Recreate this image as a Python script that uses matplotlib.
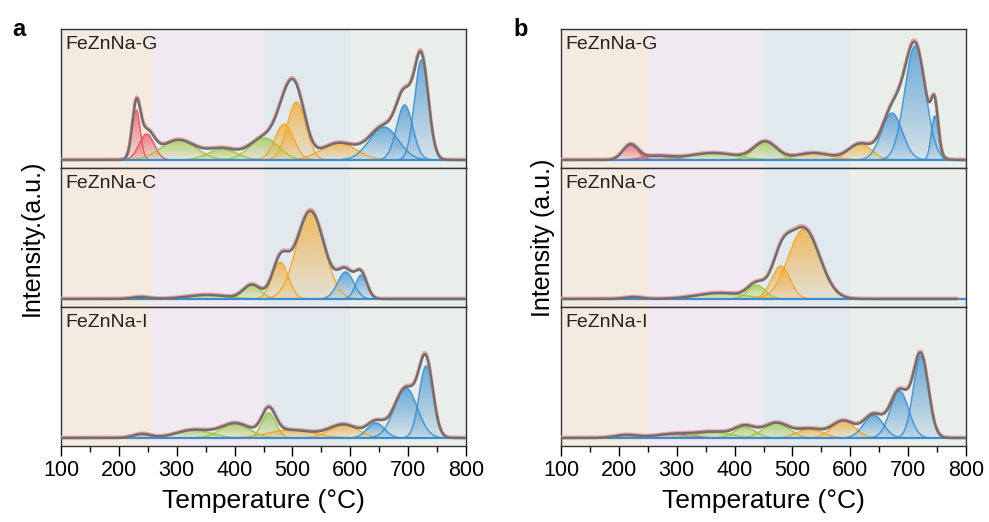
import numpy as np
import matplotlib
matplotlib.use("Agg")
import matplotlib.pyplot as plt
from matplotlib.colors import to_rgb

plt.rcParams["font.family"] = ["Liberation Sans", "DejaVu Sans"]

# temperature axis
temp_min, temp_max = 100, 800

# background regions (start, end, colour)
bands_a = [(100, 255, "#f4eae0"), (255, 450, "#efe9f1"), (450, 600, "#e1e8ee"), (600, 800, "#e9eeeb")]
bands_b = [(100, 250, "#f4eae0"), (250, 450, "#efe9f1"), (450, 600, "#e1e8ee"), (600, 800, "#e9eeeb")]

samples = ["FeZnNa-G", "FeZnNa-C", "FeZnNa-I"]

# fitted gaussian peaks: centre (°C), height, width (sigma), colour group
# panel a
a_G_center = [230, 248, 303, 379, 451, 486, 507, 580, 658, 694, 723]
a_G_height = [50, 26, 20, 11, 22, 36, 58, 17, 33, 55, 100]
a_G_width = [7, 13, 30, 25, 25, 16, 16, 30, 25, 14, 12]
a_G_group = ["r", "r", "g", "g", "g", "o", "o", "o", "b", "b", "b"]

a_C_center = [237, 353, 430, 479, 531, 592, 619]
a_C_height = [2, 4, 14, 37, 88, 27, 24]
a_C_width = [15, 35, 15, 14, 24, 14, 10]
a_C_group = ["r", "g", "g", "o", "o", "b", "b"]

a_I_center = [240, 329, 401, 459, 497, 589, 644, 696, 731]
a_I_height = [4, 8, 14, 25, 8, 13, 15, 50, 72]
a_I_width = [15, 30, 25, 12, 40, 25, 15, 20, 12]
a_I_group = ["r", "g", "g", "g", "o", "o", "b", "b", "b"]

# panel b
b_G_center = [220, 265, 363, 453, 536, 617, 672, 712, 746]
b_G_height = [15, 4, 7, 18, 7, 16, 47, 114, 44]
b_G_width = [13, 25, 40, 20, 30, 20, 18, 18, 6]
b_G_group = ["r", "r", "g", "g", "o", "o", "b", "b", "b"]

b_C_center = [225, 375, 438, 480, 520]
b_C_height = [2, 6, 14, 33, 70]
b_C_width = [15, 40, 15, 16, 27]
b_C_group = ["r", "g", "g", "o", "o"]

b_I_center = [213, 294, 363, 418, 472, 530, 588, 640, 685, 722]
b_I_height = [3, 4, 6, 11, 15, 9, 17, 23, 47, 82]
b_I_width = [20, 30, 30, 18, 22, 22, 20, 17, 16, 13]
b_I_group = ["r", "r", "g", "g", "g", "o", "o", "b", "b", "b"]

# end of measured range per panel (panel b, C sample stops early)
a_end = [800, 800, 800]
b_end = [800, 784, 800]

group_colors = {"r": "#e8505b", "g": "#9cc43a", "o": "#f5a623", "b": "#3a8dd0"}

panels = {
    "a": [(a_G_center, a_G_height, a_G_width, a_G_group),
          (a_C_center, a_C_height, a_C_width, a_C_group),
          (a_I_center, a_I_height, a_I_width, a_I_group)],
    "b": [(b_G_center, b_G_height, b_G_width, b_G_group),
          (b_C_center, b_C_height, b_C_width, b_C_group),
          (b_I_center, b_I_height, b_I_width, b_I_group)],
}

fig = plt.figure(figsize=(9.89, 5.22), dpi=100)

lefts = {"a": 61 / 989, "b": 561 / 989}
label_x = {"a": -0.042, "b": -0.015}
width = 405 / 989
h = 139 / 522
bottom0 = 1 - 446 / 522


def gaussian(x, c, a, s):
    return a * np.exp(-(x - c) ** 2 / (2 * s ** 2))


for key in ["a", "b"]:
    bands = bands_a if key == "a" else bands_b
    ends = a_end if key == "a" else b_end
    axes = []
    for i, (cen, hei, wid, grp) in enumerate(panels[key]):
        ax = fig.add_axes([lefts[key], bottom0 + (2 - i) * h, width, h])
        axes.append(ax)
        x = np.linspace(temp_min, ends[i], 1400)
        for (s, e, col) in bands:
            ax.axvspan(s, e, color=col, lw=0, zorder=0)
        total = np.zeros_like(x)
        for c, a, s, g in zip(cen, hei, wid, grp):
            y = gaussian(x, c, a, s)
            total += y
            col = group_colors[g]
            poly = ax.fill_between(x, 0, y, color=col, alpha=0, lw=0, zorder=2)
            grad = np.zeros((64, 1, 4))
            grad[:, 0, :3] = to_rgb(col)
            grad[:, 0, 3] = np.linspace(0.12, 0.7, 64)
            im = ax.imshow(grad, aspect="auto", extent=[temp_min, temp_max, 0, a],
                           origin="lower", zorder=2, interpolation="bilinear")
            im.set_clip_path(poly.get_paths()[0], transform=ax.transData)
            ax.plot(x, y, color=col, lw=1.1, alpha=0.85, zorder=3)
        ax.axhline(0, color="#3a8dd0", lw=1.6, zorder=4)
        ax.plot(x, total * 1.01 + 0.7, color="#e8a3a3", lw=2.4, zorder=5)
        ax.plot(x, total, color="#6f6f6f", lw=1.8, zorder=6)
        ax.set_xlim(temp_min, temp_max)
        ax.set_ylim(-8, 131)
        ax.set_yticks([])
        for sp in ax.spines.values():
            sp.set_color("#333333")
            sp.set_linewidth(1.0)
        ax.text(0.012, 0.95, samples[i], transform=ax.transAxes, ha="left", va="top",
                fontsize=14, color="#222222", zorder=7)
        if i < 2:
            ax.set_xticks([])
        else:
            ax.set_xticks(np.arange(100, 801, 100))
            ax.set_xticks(np.arange(150, 800, 100), minor=True)
            ax.tick_params(axis="x", which="major", direction="out", length=7, width=1,
                           labelsize=15.5, pad=3)
            ax.tick_params(axis="x", which="minor", direction="out", length=4, width=1)
            ax.set_xlabel("Temperature (°C)", fontsize=19, labelpad=6)
    ylabel = "Intensity.(a.u.)" if key == "a" else "Intensity (a.u.)"
    axes[1].set_ylabel(ylabel, fontsize=18)
    axes[1].yaxis.set_label_coords(label_x[key], 0.5)

fig.text(12 / 989, 1 - 30 / 522, "a", fontsize=17, fontweight="bold", va="center")
fig.text(513 / 989, 1 - 30 / 522, "b", fontsize=17, fontweight="bold", va="center")

fig.savefig("out.png", dpi=100)
